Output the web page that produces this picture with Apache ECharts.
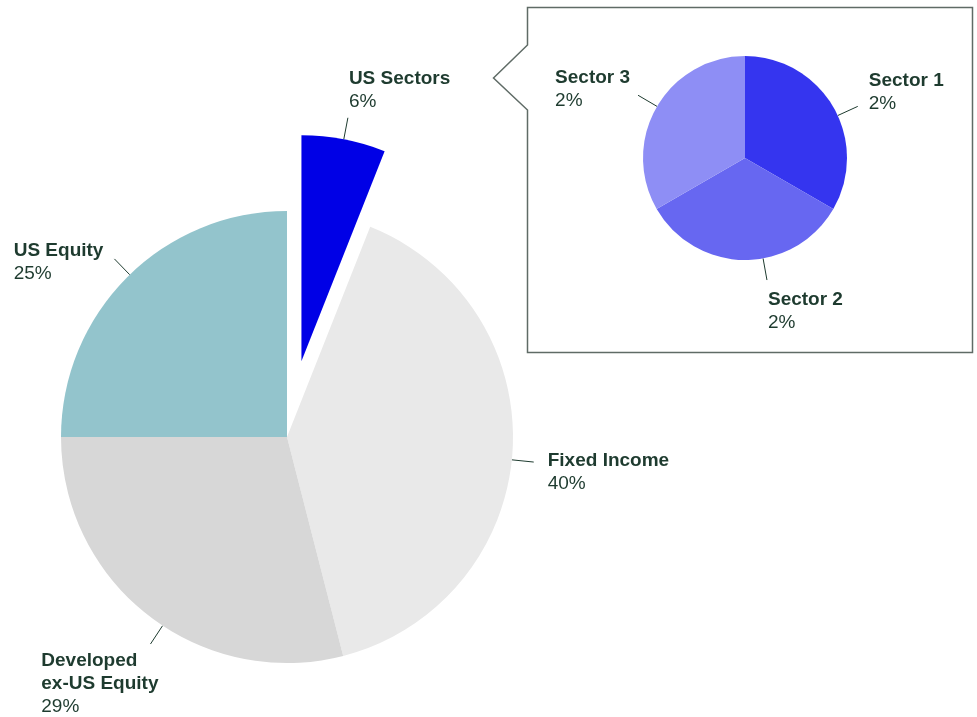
<!DOCTYPE html>
<html><head><meta charset="utf-8">
<script src="https://cdn.jsdelivr.net/npm/echarts@6/dist/echarts.min.js"></script>
<style>html,body{margin:0;padding:0;background:#fff}#c{width:977px;height:717px}</style>
</head><body><div id="c"></div>
<script>
// ---- data ----
const mainNames = ['US Sectors', 'Fixed Income', 'Developed\nex-US Equity', 'US Equity'];
const mainValues = [6, 40, 29, 25];
const sectorNames = ['Sector 1', 'Sector 2', 'Sector 3'];
const sectorValues = [2, 2, 2];

// ---- styles / layout ----
const mainColors = ['#0000e6', '#e9e9e9', '#d7d7d7', '#93c4cc'];
const sectorColors = ['#3535ef', '#6767f1', '#8e8ef5'];
const textColor = '#1e3b2f';
const FONT = '"Liberation Sans", Arial, sans-serif';
const mainCenter = [287, 437];
const mainRadius = 226;
const explodeOffset = 77;
const sectorCenter = [745, 158];
const sectorRadius = 102;

// exploded slice (index 0) is drawn by its own series, shifted along its bisector
const total = mainValues.reduce((a, b) => a + b, 0);
const midAng = (mainValues[0] / total) * Math.PI; // half of slice angle, from top clockwise
const explodedCenter = [mainCenter[0] + explodeOffset * Math.sin(midAng), mainCenter[1] - explodeOffset * Math.cos(midAng)];
const centers = [mainCenter, explodedCenter, sectorCenter];

// label: [dx, dy, align, verticalAlign, line rotation (deg, clockwise)]
const placements = [
  [null, [14, 10, 'left', 'middle', 2.2], [8, 5, 'right', 'top', -4.4], [-11, 3, 'right', 'middle', 0.9]],
  [[1, -4, 'left', 'bottom', 0], null],
  [[11, -14, 'left', 'middle', 5.4], [1, 8, 'left', 'top', -10.2], [-8, -6, 'right', 'middle', 0.4]]
];

const rich = {
  n: { fontFamily: FONT, fontWeight: 'bold', fontSize: 19, lineHeight: 23, color: textColor, align: 'left' },
  v: { fontFamily: FONT, fontSize: 19, lineHeight: 23, color: textColor, align: 'left' }
};
const labelOpt = {
  show: true, position: 'outside',
  formatter: p => '{n|' + p.name + '}\n{v|' + p.value + '%}',
  rich: rich
};
const lineOpt = { show: true, length: 22, length2: 0, smooth: false, lineStyle: { color: textColor, width: 1 } };
const hidden = { label: { show: false }, labelLine: { show: false } };

function rotate(pt, c, deg) {
  const a = deg * Math.PI / 180, dx = pt[0] - c[0], dy = pt[1] - c[1];
  return [c[0] + dx * Math.cos(a) - dy * Math.sin(a), c[1] + dx * Math.sin(a) + dy * Math.cos(a)];
}

function labelLayout(params) {
  const pts = params.labelLinePoints;
  const pl = placements[params.seriesIndex][params.dataIndex];
  if (!pts || !pl) return {};
  const c = centers[params.seriesIndex];
  const np = pl[4] ? pts.map(p => rotate(p, c, pl[4])) : pts;
  const end = np[1];
  return {
    x: end[0] + pl[0], y: end[1] + pl[1], align: pl[2], verticalAlign: pl[3],
    labelLinePoints: np
  };
}

const common = {
  type: 'pie', startAngle: 90, clockwise: true, avoidLabelOverlap: false,
  selectedMode: false, label: labelOpt, labelLine: lineOpt, labelLayout: labelLayout,
  itemStyle: { borderWidth: 0 }, emphasis: { disabled: true }
};

const chart = echarts.init(document.getElementById('c'), null, { renderer: 'canvas' });
chart.setOption({
  animation: false,
  graphic: [{
    type: 'polygon', z: 0,
    shape: { points: [[527.5, 7.5], [972.5, 7.5], [972.5, 352.5], [527.5, 352.5], [527.5, 110], [493.5, 78], [527.5, 45]] },
    style: { fill: '#fff', stroke: '#5f6b66', lineWidth: 1.5 }
  }],
  series: [
    Object.assign({}, common, {
      z: 2, center: mainCenter, radius: mainRadius,
      data: mainNames.map((n, i) => Object.assign(
        { name: n, value: mainValues[i], itemStyle: { color: i === 0 ? 'rgba(0,0,0,0)' : mainColors[i] } },
        i === 0 ? hidden : {}))
    }),
    Object.assign({}, common, {
      z: 2, center: explodedCenter, radius: mainRadius, silent: true,
      data: [
        { name: mainNames[0], value: mainValues[0], itemStyle: { color: mainColors[0] } },
        Object.assign({ name: '', value: total - mainValues[0], itemStyle: { color: 'rgba(0,0,0,0)' } }, hidden)
      ]
    }),
    Object.assign({}, common, {
      z: 3, center: sectorCenter, radius: sectorRadius,
      data: sectorNames.map((n, i) => ({ name: n, value: sectorValues[i], itemStyle: { color: sectorColors[i] } }))
    })
  ]
});
</script></body></html>
